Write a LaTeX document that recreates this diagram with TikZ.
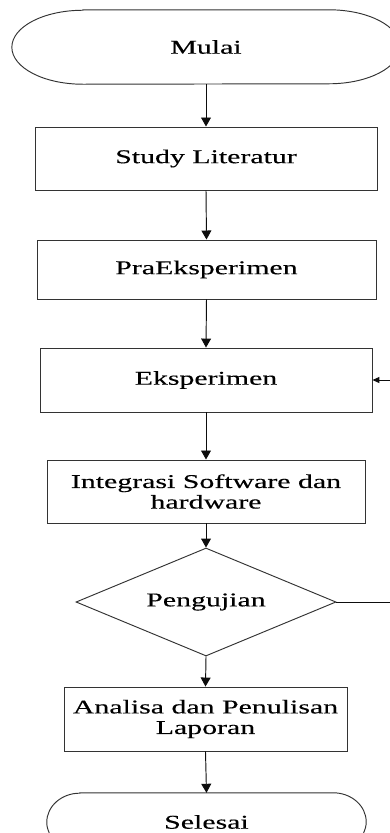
\documentclass[tikz,border=0pt]{standalone}
\usepackage{fontspec}
\setmainfont[FakeStretch=1.53, FakeBold=0.25]{Liberation Serif}
\usepackage{tikz}
\usetikzlibrary{arrows.meta, shapes.geometric}
\definecolor{mainBlack}{gray}{0.05}
\definecolor{subGray}{gray}{0.2}
% terminator outline round a node: node, x radius, y radius
\newcommand{\drawterminal}[3]{%
  \draw[subGray, line width=0.9pt] ([xshift=#2]#1.north west) -- ([xshift=-#2]#1.north east)
    arc[start angle=90, end angle=-90, x radius=#2, y radius=#3]
    -- ([xshift=#2]#1.south west)
    arc[start angle=270, end angle=90, x radius=#2, y radius=#3] -- cycle;}

\begin{document}
\begin{tikzpicture}[
    font=\fontsize{18.5}{19.5}\selectfont,
    >={Triangle[length=0.3cm, width=0.33cm]},
    terminal/.style={minimum height=#1, inner sep=0pt, text=black},
    process/.style={draw=subGray, line width=0.9pt, align=center, inner sep=2pt, text=black},
    decision/.style={draw=subGray, line width=0.9pt, diamond, aspect=2.4, inner sep=2pt, text=black},
    flow/.style={->, mainBlack, line width=0.9pt}]
    \useasboundingbox (0,0) rectangle (13,-27.767);
    \clip (0,0) rectangle (13,-27.767);

    \node[terminal=2.467cm, minimum width=12.93cm] (mulai) at (6.867,-1.567) {Mulai};
    \drawterminal{mulai}{2.37cm}{1.233cm}
    \node[process, minimum width=11.4cm, minimum height=2.1cm] (study) at (6.867,-5.283) {Study Literatur};
    \node[process, minimum width=11.3cm, minimum height=1.967cm] (pra) at (6.883,-8.983) {PraEksperimen};
    \node[process, minimum width=11.067cm, minimum height=2.133cm] (eksp) at (6.867,-12.667) {Eksperimen};
    \node[process, minimum width=10.6cm, minimum height=2.1cm] (integ) at (6.867,-16.383) {Integrasi Software dan\\hardware};
    \node[decision, minimum width=8.667cm, minimum height=3.6cm] (uji) at (6.867,-20.067) {Pengujian};
    \node[process, minimum width=9.433cm, minimum height=2.133cm] (analisa) at (6.85,-23.967) {Analisa dan Penulisan\\Laporan};
    \node[terminal=1.933cm, minimum width=10.633cm] (selesai) at (6.883,-27.4) {Selesai};
    \drawterminal{selesai}{1.1cm}{0.967cm}

    \coordinate (balikBawah) at (13.05,-20.067);
    \coordinate (balikAtas) at (13.05,-12.667);

    \draw[flow] (mulai.south) -- (study.north);
    \draw[flow] (study.south) -- (pra.north);
    \draw[flow] (pra.south) -- (eksp.north);
    \draw[flow] (eksp.south) -- (integ.north);
    \draw[flow] (integ.south) -- (uji.north);
    \draw[flow] (uji.south) -- (analisa.north);
    \draw[flow] (analisa.south) -- (selesai.north);
    \draw[mainBlack, line width=0.9pt, -{Triangle[length=0.23cm, width=0.2cm]}] (uji.east) -- (balikBawah) -- (balikAtas) -- (eksp.east);
\end{tikzpicture}
\end{document}
